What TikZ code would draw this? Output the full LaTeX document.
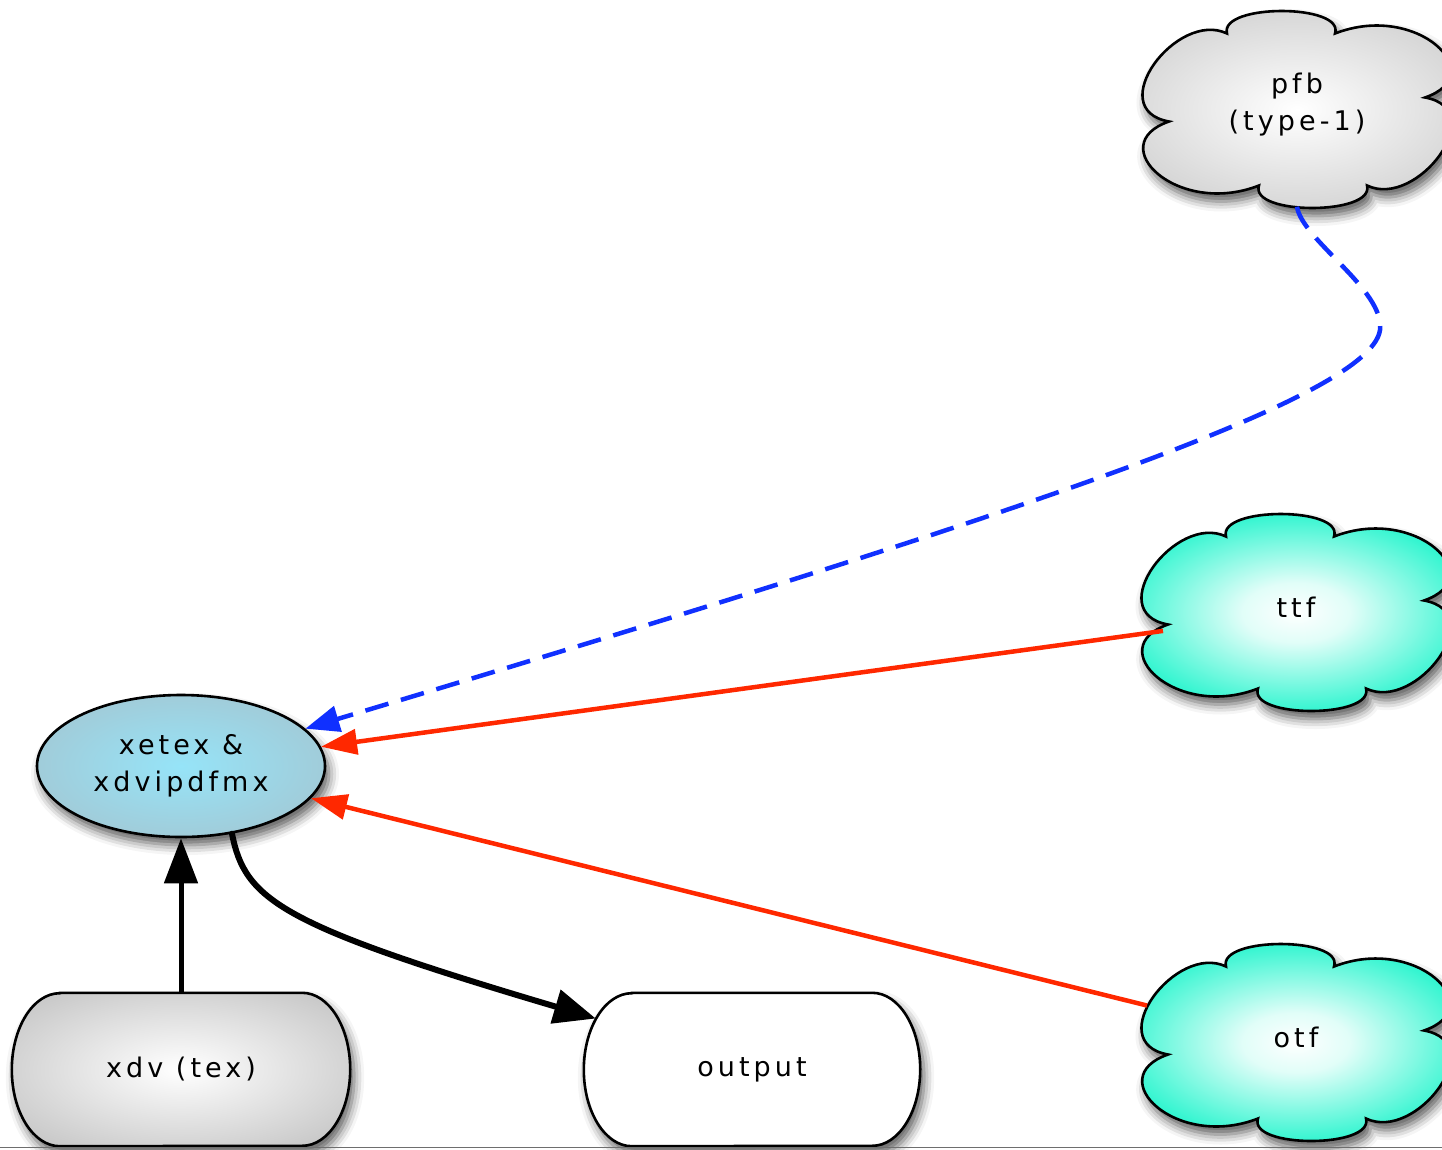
\documentclass[tikz,border=0pt]{standalone}
\usepackage{fontspec}
\usetikzlibrary{shapes.geometric,arrows.meta,shadows.blur,backgrounds}
\newfontfamily\lblfont[LetterSpace=15]{DejaVu Sans}
\definecolor{ellIn}{RGB}{150,228,248}
\definecolor{ellOut}{RGB}{166,192,202}
\definecolor{grayOut}{RGB}{190,190,190}
\definecolor{aquaMid}{RGB}{50,245,208}
\definecolor{aquaOut}{RGB}{112,205,190}
\definecolor{arrRed}{RGB}{255,40,0}
\definecolor{arrBlue}{RGB}{16,48,255}
\definecolor{edgeGray}{RGB}{110,110,110}
\pgfdeclareradialshading{aquashade}{\pgfpoint{0bp}{0bp}}{color(0bp)=(white); color(7bp)=(white!85!aquaMid); color(23bp)=(aquaMid); color(37bp)=(aquaOut); color(50bp)=(aquaOut)}
\pgfdeclareradialshading{grayshade}{\pgfpoint{0bp}{0bp}}{color(0bp)=(white); color(37bp)=(grayOut); color(50bp)=(grayOut)}
\pgfdeclareradialshading{ellshade}{\pgfpoint{0bp}{0bp}}{color(0bp)=(ellIn); color(38bp)=(ellOut); color(50bp)=(ellOut)}
\tikzset{
  lbl/.style={font=\lblfont\fontsize{27}{37}\selectfont, align=center, text=black},
  shad/.style={blur shadow={shadow xshift=4pt, shadow yshift=-8pt, shadow blur radius=10pt, shadow opacity=65}},
  cloudbox/.style={ellipse, minimum width=306pt, minimum height=196pt, inner sep=0pt, lbl},
  outline/.style={draw, line width=2.6pt, shad},
  pillbox/.style={rectangle, minimum height=153pt, inner sep=0pt, lbl},
  redarrow/.style={draw=arrRed, line width=4.5pt, -{Triangle[length=36pt,width=25pt]}},
  bluedash/.style={draw=arrBlue, line width=4.5pt, dash pattern=on 24pt off 13pt, -{Triangle[length=34pt,width=26pt]}},
  blk/.style={draw=black}
}
\newcommand\cloudoutline[2]{%
  \path[outline, #2, shift={(#1.center)}, yshift=-5pt]
    (128,12) .. controls (195,35) and (120,108) .. (38,76)
    .. controls (48,106) and (-78,106) .. (-70,76)
    .. controls (-120,100) and (-195,0) .. (-128,-12)
    .. controls (-195,-35) and (-120,-108) .. (-38,-76)
    .. controls (-48,-106) and (78,-106) .. (70,-76)
    .. controls (120,-100) and (195,0) .. (128,12) -- cycle;}
\newcommand\pilloutline[2]{%
  \path[outline, #2]
    ([xshift=48pt]#1.north west) -- ([xshift=-48pt]#1.north east)
    arc[start angle=90, end angle=-90, x radius=48pt, y radius=76.5pt]
    -- ([xshift=48pt]#1.south west)
    arc[start angle=270, end angle=90, x radius=48pt, y radius=76.5pt] -- cycle;}
\begin{document}
\begin{tikzpicture}[x=1pt,y=1pt]
\useasboundingbox (0,0) rectangle (1442,-1149);
\clip (0,0) rectangle (1442,-1149);
% nodes (label positions; cloud outlines sit 5pt lower)
\node[cloudbox] (pfb) at (1297,-104.5) {pfb\\(type-1)};
\node[cloudbox] (ttf) at (1296,-607.5) {ttf};
\node[cloudbox] (otf) at (1296,-1037.5) {otf};
\node[ellipse, draw, line width=2.6pt, minimum width=288pt, minimum height=142pt, inner sep=0pt,
  shading=ellshade, shad, lbl] (xetex) at (181,-766) {xetex \&\\xdvipdfmx};
\node[pillbox, minimum width=338pt] (xdv) at (181,-1069.5) {xdv (tex)};
\node[pillbox, minimum width=336pt] (output) at (752,-1069.5) {output};
% shapes behind the labels
\begin{scope}[on background layer]
  \cloudoutline{pfb}{shading=grayshade}
  \cloudoutline{ttf}{shading=aquashade}
  \cloudoutline{otf}{shading=aquashade}
  \pilloutline{xdv}{shading=grayshade}
  \pilloutline{output}{fill=white}
\end{scope}
% connectors
\draw[bluedash] ([yshift=-4pt]pfb.south) .. controls (1302,-240) and (1385,-290) .. (1380,-330)
  .. controls (1370,-400) and (1000,-520) .. (xetex);
\draw[redarrow] ([shift={(-133pt,-23.4pt)}]ttf.center) -- (xetex);
\draw[redarrow] ([shift={(-149pt,32pt)}]otf.center) -- (xetex);
\draw[blk, line width=5pt, -{Triangle[length=45pt,width=33pt]}] (xdv.north) -- (xetex.south);
\draw[blk, line width=6pt, line cap=round, -{Triangle[length=42pt,width=34pt]}]
  (xetex.-53) .. controls (245,-900) and (280,-925) .. ([shift={(12pt,51pt)}]output.west);
% page edge
\draw[edgeGray, line width=1.5pt] (0,-1147.5) -- (1442,-1147.5);
\end{tikzpicture}
\end{document}
